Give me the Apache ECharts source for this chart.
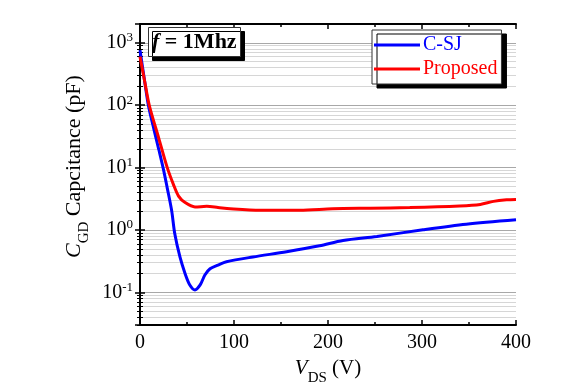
<!DOCTYPE html>
<html>
<head>
<meta charset="utf-8">
<script src="https://cdn.jsdelivr.net/npm/echarts@6/dist/echarts.min.js"></script>
<style>html,body{margin:0;padding:0;background:#fff;}#c{width:585px;height:391px;}</style>
</head>
<body>
<div id="c"></div>
<script>
const vdsCSJ = [0,5,9,15,20,25,29,33.7,37,42.5,48,53,58.5,64,69,74.5,83,92,120,156,191,216,252,301,347,400];
const capCSJ = [760,240,98,40,19.5,9.3,4.7,2.04,0.87,0.37,0.20,0.132,0.11,0.132,0.19,0.24,0.275,0.31,0.37,0.45,0.56,0.68,0.79,1.01,1.24,1.46];
const vdsProp = [0,5,10,20,29,35.5,41,48,58.5,71,83,96,128,170,205,245,287,340,362,376,390,400];
const capProp = [600,240,98,29.5,10,5.4,3.5,2.75,2.34,2.4,2.3,2.19,2.07,2.07,2.19,2.24,2.29,2.43,2.57,2.88,3.05,3.09];
const xTicks = [0,100,200,300,400];
const yDecades = [-1,0,1,2,3];

const FONT = '"Liberation Serif", "Times New Roman", serif';
const chart = echarts.init(document.getElementById('c'), null, {renderer:'canvas'});
function yLabel(v){
  const l = Math.log10(v), n = Math.round(l);
  if (Math.abs(l-n) > 0.01 || yDecades.indexOf(n) < 0) return '';
  return '{b|10}{s|' + n + '}';
}
const axisLine = {show:true, lineStyle:{color:'#000', width:2}};
chart.setOption({
  animation:false,
  backgroundColor:'#fff',
  textStyle:{fontFamily:FONT},
  title:{
    text:'{i|f}{b| = 1Mhz}',
    left:148, top:27,
    padding:[4,4,4,4],
    backgroundColor:'#fff', borderColor:'#333', borderWidth:1,
    shadowColor:'#000', shadowOffsetX:4, shadowOffsetY:4, shadowBlur:0,
    textStyle:{rich:{
      i:{fontFamily:FONT, fontSize:22, fontWeight:'bold', fontStyle:'italic', color:'#000'},
      b:{fontFamily:FONT, fontSize:22, fontWeight:'bold', color:'#000'}
    }}
  },
  legend:{
    orient:'vertical', left:372, top:30,
    padding:[5,4,5,2], itemGap:4,
    itemWidth:46, itemHeight:3, icon:'rect',
    backgroundColor:'#fff', borderColor:'#333', borderWidth:1,
    shadowColor:'#000', shadowOffsetX:5, shadowOffsetY:4, shadowBlur:0,
    textStyle:{fontFamily:FONT, fontSize:20, padding:[0,0,0,-2]},
    data:[{name:'C-SJ', textStyle:{color:'#0000ff'}},{name:'Proposed', textStyle:{color:'#ff0000'}}]
  },
  grid:{left:140, right:69, top:24, bottom:62},
  xAxis:[{
    type:'value', min:xTicks[0], max:xTicks[xTicks.length-1], interval:100,
    name:'{v|V}{s|DS}{n| (V)}', nameLocation:'middle', nameGap:30,
    nameTextStyle:{rich:{
      v:{fontFamily:FONT, fontSize:21, fontStyle:'italic', color:'#000'},
      s:{fontFamily:FONT, fontSize:15, color:'#000', verticalAlign:'bottom', padding:[0,0,-7,0]},
      n:{fontFamily:FONT, fontSize:21, color:'#000'}
    }},
    axisLine:axisLine,
    axisTick:{show:true, inside:true, length:5, lineStyle:{color:'#000', width:1.5}},
    minorTick:{show:true, splitNumber:2, length:3, lineStyle:{color:'#000', width:1.5}},
    axisLabel:{fontFamily:FONT, fontSize:20, color:'#000', margin:8},
    splitLine:{show:false}
  },{
    type:'value', position:'top', min:xTicks[0], max:xTicks[xTicks.length-1], interval:100,
    axisLine:axisLine,
    axisTick:{show:true, inside:true, length:5, lineStyle:{color:'#000', width:1.5}},
    minorTick:{show:true, splitNumber:2, length:3, lineStyle:{color:'#000', width:1.5}},
    axisLabel:{show:false}, splitLine:{show:false}
  }],
  yAxis:[{
    type:'log', logBase:10, min:0.03, max:2000,
    name:'{c|C}{s|GD}{n| Capcitance (pF)}', nameLocation:'middle', nameGap:44, nameRotate:90,
    nameTextStyle:{padding:[0,0,0,16], rich:{
      c:{fontFamily:FONT, fontSize:22, fontStyle:'italic', color:'#000'},
      s:{fontFamily:FONT, fontSize:15, color:'#000', verticalAlign:'bottom', padding:[0,0,-6,0]},
      n:{fontFamily:FONT, fontSize:22, color:'#000'}
    }},
    axisLine:axisLine,
    axisTick:{show:true, inside:true, length:5, lineStyle:{color:'#000', width:1.5}},
    minorTick:{show:true, splitNumber:9, length:3, lineStyle:{color:'#000', width:1}},
    minorSplitLine:{show:true, lineStyle:{color:'#d6d6d6', width:1}},
    axisLabel:{formatter:yLabel, margin:7,
      rich:{b:{fontFamily:FONT, fontSize:20, color:'#000'}, s:{fontFamily:FONT, fontSize:13, color:'#000', verticalAlign:'top', padding:[0,0,10,0]}}},
    splitLine:{show:true, lineStyle:{color:'#a8a8a8', width:1}}
  },{
    type:'log', logBase:10, min:0.03, max:2000, position:'right',
    axisLine:axisLine,
    axisTick:{show:true, inside:true, length:5, lineStyle:{color:'#000', width:1.5}},
    minorTick:{show:true, splitNumber:9, length:3, lineStyle:{color:'#000', width:1}},
    axisLabel:{show:false}, splitLine:{show:false}
  }],
  series:[{
    name:'C-SJ', type:'line', smooth:0.3, showSymbol:false, z:3,
    lineStyle:{color:'#0000ff', width:3}, itemStyle:{color:'#0000ff'},
    data:vdsCSJ.map((v,i)=>[v,capCSJ[i]])
  },{
    name:'Proposed', type:'line', smooth:0.3, showSymbol:false, z:4,
    lineStyle:{color:'#ff0000', width:3}, itemStyle:{color:'#ff0000'},
    data:vdsProp.map((v,i)=>[v,capProp[i]])
  }]
});
</script>
</body>
</html>
